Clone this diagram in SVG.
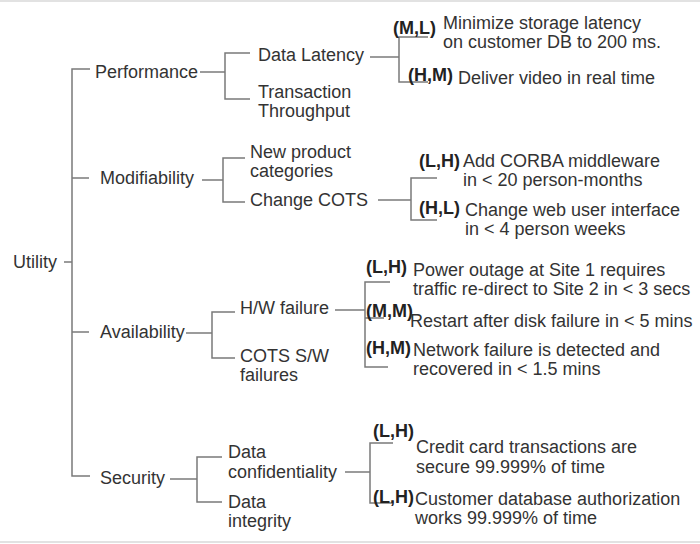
<svg xmlns="http://www.w3.org/2000/svg" width="700" height="544" viewBox="0 0 700 544">
<style>
text{font-family:"Liberation Sans",Arial,Helvetica,sans-serif;font-size:18px;fill:#333}
.b{font-weight:bold;fill:#222}
.c line,.c path{stroke:#7a7a7a;stroke-width:1.5;fill:none}
.f{stroke:#e2e2e2;stroke-width:2}
</style>
<rect width="700" height="544" fill="#fff"/>
<line class="f" x1="0" y1="1" x2="700" y2="1"/>
<line class="f" x1="0" y1="542" x2="700" y2="542"/>
<g class="c" id="connectors">
<path d="M90 69 H72 V476 H90"/>
<line x1="64" y1="262" x2="72" y2="262"/>
<line x1="72" y1="178" x2="89" y2="178"/>
<line x1="72" y1="332" x2="89" y2="332"/>
<line x1="200" y1="72" x2="225" y2="72"/>
<path d="M250 53 H225 V99 H250"/>
<line x1="370" y1="57" x2="399" y2="57"/>
<path d="M428 37 H399 V82 H428"/>
<line x1="202" y1="180" x2="223" y2="180"/>
<path d="M245 158 H223 V202 H245"/>
<line x1="378" y1="200" x2="411" y2="200"/>
<path d="M437 178 H411 V220 H437"/>
<line x1="186" y1="333" x2="212" y2="333"/>
<path d="M235 312 H212 V358 H235"/>
<line x1="335" y1="310" x2="365" y2="310"/>
<path d="M390 282 H365 V367 H388"/>
<line x1="365" y1="318" x2="384" y2="318"/>
<line x1="170" y1="479" x2="197" y2="479"/>
<path d="M222 457 H197 V502 H222"/>
<line x1="345" y1="472" x2="370" y2="472"/>
<path d="M393 443 H370 V503 H393"/>
</g>
<g id="utility"><text x="13" y="268">Utility</text></g>
<g id="performance"><text x="95" y="78">Performance</text></g>
<g id="modifiability"><text x="100" y="184">Modifiability</text></g>
<g id="availability"><text x="100" y="338">Availability</text></g>
<g id="security"><text x="100" y="484">Security</text></g>
<g id="data-latency"><text x="258" y="61">Data Latency</text></g>
<g id="transaction-throughput"><text x="258" y="98">Transaction</text><text x="258" y="117">Throughput</text></g>
<g id="new-product"><text x="250" y="158">New product</text><text x="250" y="177">categories</text></g>
<g id="change-cots"><text x="250" y="206">Change COTS</text></g>
<g id="hw-failure"><text x="240" y="314">H/W failure</text></g>
<g id="cots-sw"><text x="240" y="362">COTS S/W</text><text x="240" y="381">failures</text></g>
<g id="data-conf"><text x="228" y="458">Data</text><text x="228" y="478">confidentiality</text></g>
<g id="data-int"><text x="228" y="508">Data</text><text x="228" y="527">integrity</text></g>
<g id="s1"><text class="b" x="393" y="34">(M,L)</text><text x="443" y="29">Minimize storage latency</text><text x="443" y="48">on customer DB to 200 ms.</text></g>
<g id="s2"><text class="b" x="408" y="81">(H,M)</text><text x="458" y="84">Deliver video in real time</text></g>
<g id="s3"><text class="b" x="419" y="167">(L,H)</text><text x="463" y="167">Add CORBA middleware</text><text x="463" y="186">in &lt; 20 person-months</text></g>
<g id="s4"><text class="b" x="419" y="214">(H,L)</text><text x="465" y="216">Change web user interface</text><text x="465" y="235">in &lt; 4 person weeks</text></g>
<g id="s5"><text class="b" x="366" y="273">(L,H)</text><text x="413" y="276">Power outage at Site 1 requires</text><text x="413" y="295">traffic re-direct to Site 2 in &lt; 3 secs</text></g>
<g id="s6"><text class="b" x="366" y="317">(M,M)</text><text x="410" y="327">Restart after disk failure in &lt; 5 mins</text></g>
<g id="s7"><text class="b" x="366" y="354">(H,M)</text><text x="413" y="356">Network failure is detected and</text><text x="413" y="375">recovered in &lt; 1.5 mins</text></g>
<g id="s8"><text class="b" x="373" y="437">(L,H)</text><text x="416" y="453">Credit card transactions are</text><text x="416" y="473">secure 99.999% of time</text></g>
<g id="s9"><text class="b" x="373" y="503">(L,H)</text><text x="415" y="505">Customer database authorization</text><text x="415" y="524">works 99.999% of time</text></g>
</svg>
